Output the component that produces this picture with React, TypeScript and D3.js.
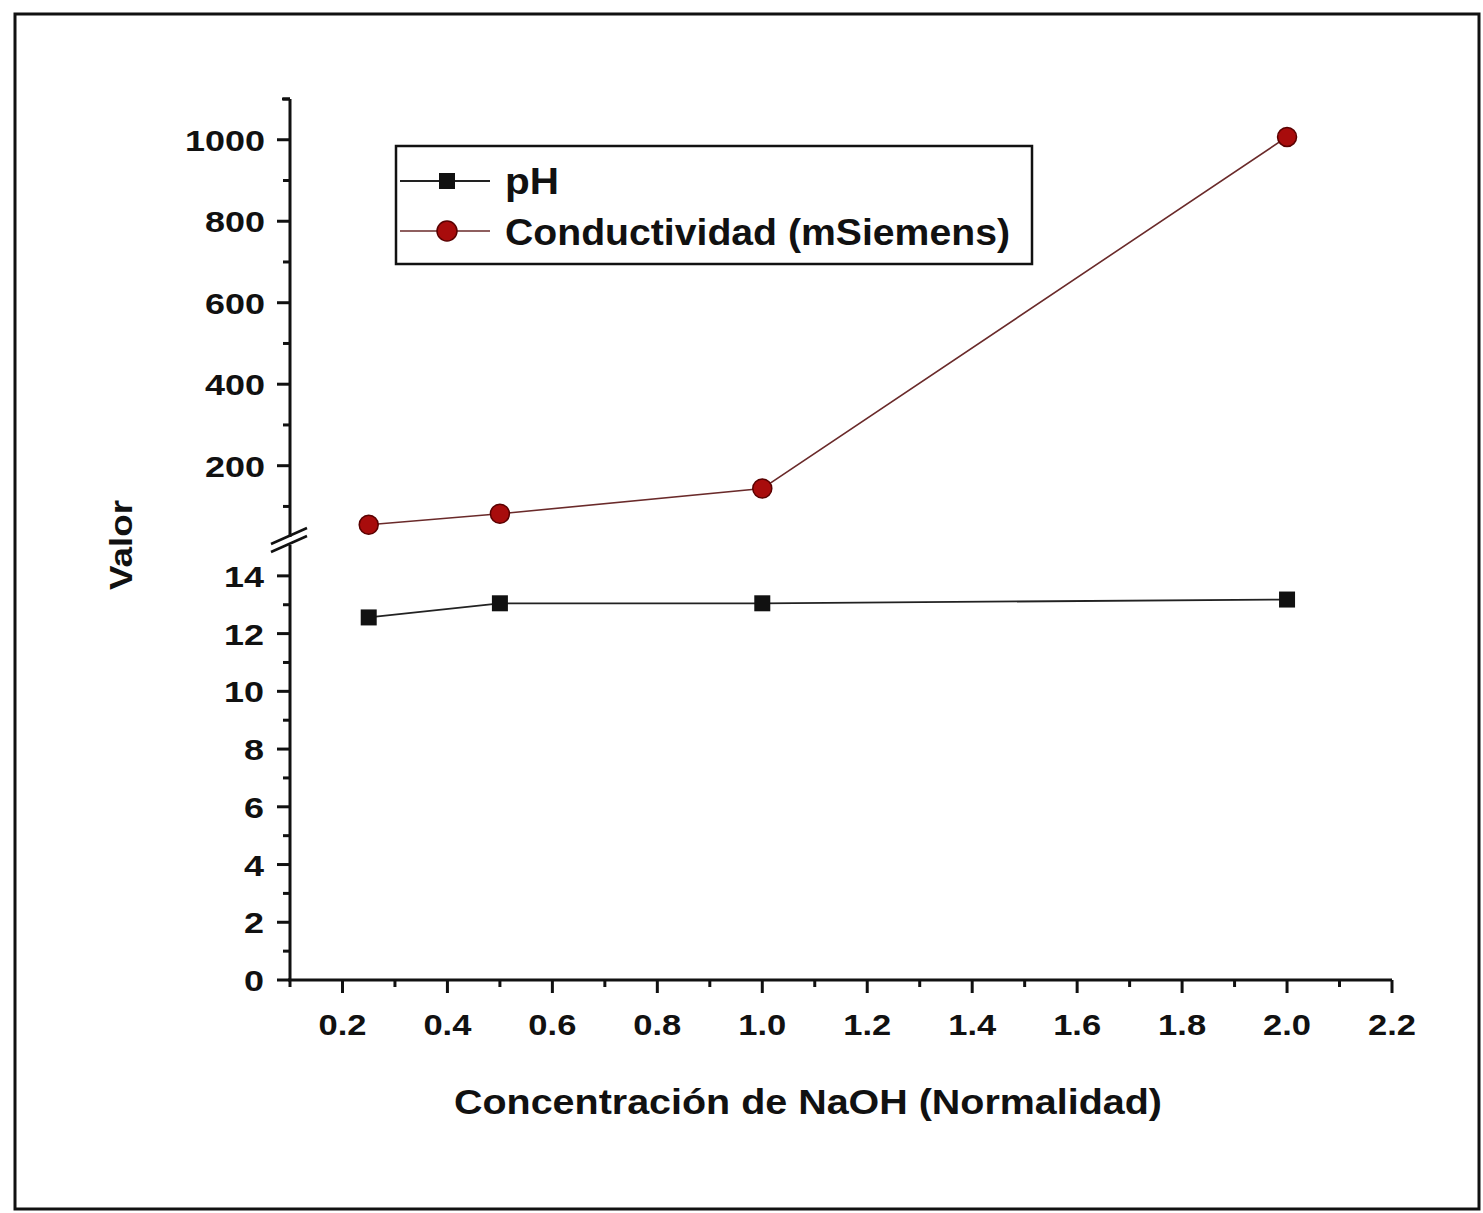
import React from "react";
import * as d3 from "d3";

const xValues = [0.25, 0.5, 1.0, 2.0];
const phValues = [12.56, 13.05, 13.05, 13.18];
const condValues = [55, 82, 144, 1007];
const xTicks = [0.2, 0.4, 0.6, 0.8, 1.0, 1.2, 1.4, 1.6, 1.8, 2.0, 2.2];
const yLowTicks = [0, 2, 4, 6, 8, 10, 12, 14];
const yHighTicks = [200, 400, 600, 800, 1000];
const seriesNames = ["pH", "Conductividad (mSiemens)"];

const FONT = "'Liberation Sans', Arial, sans-serif";

function labelLen(s: string) {
  let n = 0;
  for (const ch of s) n += ch === "." ? 8 : 20;
  return n;
}

export default function App() {
  const W = 1483, H = 1213;
  const x = d3.scaleLinear().domain([0.1, 2.2]).range([290, 1392]);
  const yLow = d3.scaleLinear().domain([0, 15]).range([980, 547]);
  const yHigh = d3.scaleLinear().domain([25, 1100]).range([537, 99]);
  const axisX = 290;

  const xMinor = d3.range(0.1, 2.2001, 0.1).map((v) => +v.toFixed(2)).filter((v) => !xTicks.some((t) => Math.abs(t - v) < 1e-6));
  const lowMinor = d3.range(1, 15, 2);
  const highMinor = d3.range(100, 1101, 200);

  const line = d3.line<number>();
  const phPts = xValues.map((v, i) => [x(v), yLow(phValues[i])] as [number, number]);
  const condPts = xValues.map((v, i) => [x(v), yHigh(condValues[i])] as [number, number]);

  const tickFont = { fontFamily: FONT, fontWeight: 700, fontSize: 30, fill: "#111" } as const;

  return (
    <svg width={W} height={H} style={{ position: "absolute", left: 0, top: 0, background: "#fff" }}>
      <rect x={0} y={0} width={W} height={H} fill="#fff" />
      <rect x={15} y={14} width={1464} height={1195} fill="none" stroke="#111" strokeWidth={3} />

      {/* X axis */}
      <line x1={axisX - 2} x2={x(2.2)} y1={980} y2={980} stroke="#111" strokeWidth={3} />
      {xTicks.map((t) => {
        const s = t.toFixed(1);
        return (
          <g key={"xt" + t}>
            <line x1={x(t)} x2={x(t)} y1={980} y2={993} stroke="#111" strokeWidth={3} />
            <text x={x(t)} y={1035} textAnchor="middle" textLength={labelLen(s)} lengthAdjust="spacingAndGlyphs" {...tickFont}>{s}</text>
          </g>
        );
      })}
      {xMinor.map((t) => (
        <line key={"xm" + t} x1={x(t)} x2={x(t)} y1={980} y2={987} stroke="#111" strokeWidth={3} />
      ))}

      {/* Y axis lower */}
      <line x1={axisX} x2={axisX} y1={980} y2={545} stroke="#111" strokeWidth={3} />
      {yLowTicks.map((t) => (
        <g key={"yl" + t}>
          <line x1={axisX - 13} x2={axisX} y1={yLow(t)} y2={yLow(t)} stroke="#111" strokeWidth={3} />
          <text x={264 - labelLen(String(t))} y={yLow(t) + 11} textLength={labelLen(String(t))} lengthAdjust="spacingAndGlyphs" {...tickFont}>{t}</text>
        </g>
      ))}
      {lowMinor.map((t) => (
        <line key={"ylm" + t} x1={axisX - 7} x2={axisX} y1={yLow(t)} y2={yLow(t)} stroke="#111" strokeWidth={3} />
      ))}

      {/* Y axis upper */}
      <line x1={axisX} x2={axisX} y1={yHigh(25)} y2={yHigh(1100)} stroke="#111" strokeWidth={3} />
      <line x1={axisX - 8} x2={axisX} y1={yHigh(1100)} y2={yHigh(1100)} stroke="#111" strokeWidth={3} />
      {yHighTicks.map((t) => (
        <g key={"yh" + t}>
          <line x1={axisX - 13} x2={axisX} y1={yHigh(t)} y2={yHigh(t)} stroke="#111" strokeWidth={3} />
          <text x={265 - labelLen(String(t))} y={yHigh(t) + 11} textLength={labelLen(String(t))} lengthAdjust="spacingAndGlyphs" {...tickFont}>{t}</text>
        </g>
      ))}
      {highMinor.map((t) => (
        <line key={"yhm" + t} x1={axisX - 7} x2={axisX} y1={yHigh(t)} y2={yHigh(t)} stroke="#111" strokeWidth={3} />
      ))}

      {/* break marks */}
      <rect x={axisX - 3} y={yHigh(25)} width={6} height={545 - yHigh(25)} fill="#fff" />
      <line x1={271} y1={544} x2={307} y2={528} stroke="#111" strokeWidth={2.5} />
      <line x1={271} y1={552} x2={307} y2={536} stroke="#111" strokeWidth={2.5} />

      {/* axis labels */}
      <text transform="translate(132,545) rotate(-90)" textAnchor="middle" textLength={90} lengthAdjust="spacingAndGlyphs" fontFamily={FONT} fontWeight={700} fontSize={32} fill="#111">Valor</text>
      <text x={454} y={1114} textLength={708} lengthAdjust="spacingAndGlyphs" fontFamily={FONT} fontWeight={700} fontSize={35} fill="#111">Concentración de NaOH (Normalidad)</text>

      {/* series */}
      <path d={line(condPts) ?? ""} fill="none" stroke="#6a2a2a" strokeWidth={1.6} />
      <path d={line(phPts) ?? ""} fill="none" stroke="#222" strokeWidth={1.8} />
      {condPts.map(([cx, cy], i) => (
        <circle key={"c" + i} cx={cx} cy={cy} r={9.5} fill="#a80c0c" stroke="#5a0000" strokeWidth={1.5} />
      ))}
      {phPts.map(([cx, cy], i) => (
        <rect key={"s" + i} x={cx - 8} y={cy - 8} width={16} height={16} fill="#111" />
      ))}

      {/* legend */}
      <rect x={396} y={146} width={636} height={118} fill="#fff" stroke="#111" strokeWidth={2.5} />
      <line x1={400} x2={490} y1={181} y2={181} stroke="#222" strokeWidth={1.8} />
      <rect x={439} y={173} width={16} height={16} fill="#111" />
      <text x={505} y={194} textLength={54} lengthAdjust="spacingAndGlyphs" fontFamily={FONT} fontWeight={700} fontSize={36} fill="#111">{seriesNames[0]}</text>
      <line x1={400} x2={490} y1={231} y2={231} stroke="#6a2a2a" strokeWidth={1.6} />
      <circle cx={447} cy={231} r={10} fill="#a80c0c" stroke="#5a0000" strokeWidth={1.5} />
      <text x={505} y={245} textLength={505} lengthAdjust="spacingAndGlyphs" fontFamily={FONT} fontWeight={700} fontSize={36} fill="#111">{seriesNames[1]}</text>
    </svg>
  );
}
